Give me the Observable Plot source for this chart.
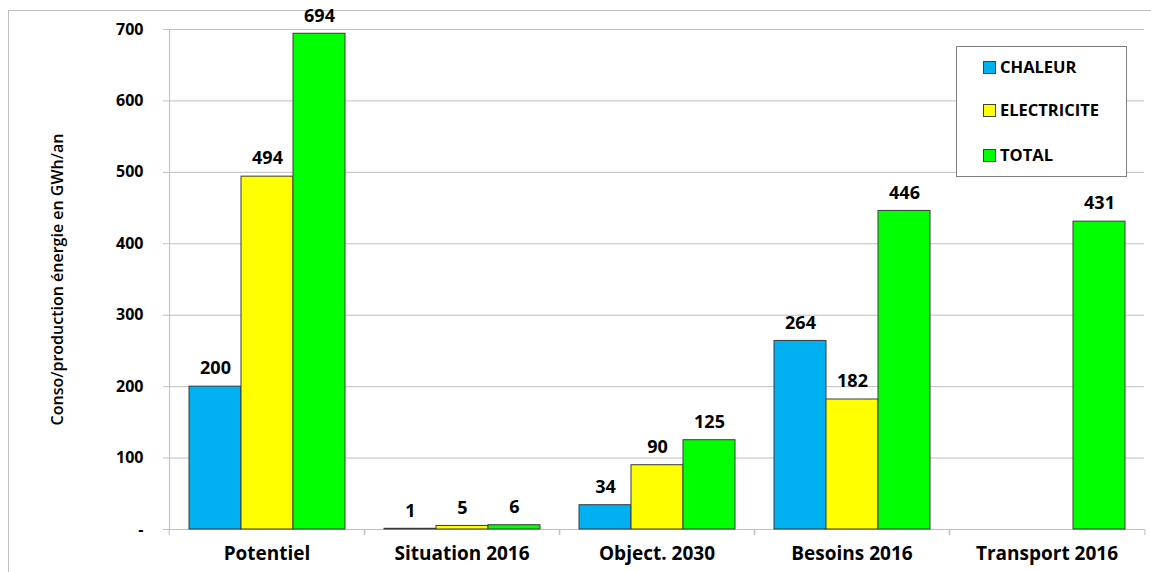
<!DOCTYPE html>
<html><head><meta charset="utf-8">
<script src="https://cdn.jsdelivr.net/npm/d3@7"></script>
<script src="https://cdn.jsdelivr.net/npm/@observablehq/plot@0.6"></script>
<style>
body{margin:0;background:#fff;}
#wrap{position:relative;width:1151px;height:572px;overflow:hidden;font-family:"Open Sans",sans-serif;}
#border{position:absolute;left:8px;top:10px;width:1300px;height:800px;border:1px solid #bfbfbf;box-sizing:border-box;}
#chart{position:absolute;left:0;top:0;}
#legend{position:absolute;left:956px;top:46px;width:171px;height:131px;background:#fff;border:1px solid #7f7f7f;box-sizing:border-box;}
#legend .item{position:absolute;left:26px;display:flex;align-items:center;font-weight:bold;font-size:16.5px;color:#000;line-height:20px;}
#legend .sw{width:13px;height:13px;border:1px solid #404040;margin-right:4px;box-sizing:border-box;}
</style></head><body>
<div id="wrap"><div id="border"></div><div id="chart"></div><div id="legend"></div></div>
<script>
const categories = ["Potentiel", "Situation 2016", "Object. 2030", "Besoins 2016", "Transport 2016"];
const series = ["CHALEUR", "ELECTRICITE", "TOTAL"];
const colors = ["#00B0F0", "#FFFF00", "#00FF00"];
const chaleur = [200, 1, 34, 264, null];
const electricite = [494, 5, 90, 182, null];
const total = [694, 6, 125, 446, 431];
const yTicks = [0, 100, 200, 300, 400, 500, 600, 700];
const yLabel = "Conso/production énergie en GWh/an";

const seriesValues = [chaleur, electricite, total];
const data = [];
categories.forEach((c, i) => {
  seriesValues.forEach((arr, j) => {
    if (arr[i] != null) data.push({category: c, series: series[j], value: arr[i]});
  });
});

const W = 1151, H = 572, mL = 167, mR = 6, mT = 29, mB = 43;
const step = (W - mL - mR) / categories.length;
const grey = "#bfbfbf";

const chart = Plot.plot({
  width: W, height: H,
  marginLeft: mL, marginRight: mR, marginTop: mT, marginBottom: mB,
  style: {fontFamily: "'Open Sans', sans-serif", background: "transparent", color: "#000"},
  fx: {domain: categories, padding: 0, label: null, axis: null},
  x: {domain: series, paddingInner: 0, paddingOuter: 0.363, axis: null},
  y: {domain: [0, 700], axis: null},
  color: {domain: series, range: colors},
  marks: [
    Plot.gridY(yTicks, {stroke: grey, strokeOpacity: 1}),
    Plot.frame({anchor: "left", stroke: grey, facetAnchor: "left"}),
    Plot.axisY(yTicks, {tickSize: 6, tickPadding: 20, stroke: grey, fill: "#000",
      tickFormat: d => d === 0 ? "-" : String(d), fontSize: 16, fontWeight: "bold", label: null}),
    Plot.text([yLabel], {frameAnchor: "left", textAnchor: "middle", rotate: -90, dx: -112, fontSize: 16, fontWeight: 600, fill: "#000", facetAnchor: "left"}),
    Plot.axisFx({anchor: "bottom", tickSize: 0, tickPadding: 17, fontSize: 19, fontWeight: "bold", fill: "#000", label: null}),
    Plot.axisFx({anchor: "bottom", tickSize: 6, stroke: grey, tickFormat: () => "", dx: -step / 2, label: null}),
    Plot.axisFx([categories[categories.length - 1]], {anchor: "bottom", tickSize: 6, stroke: grey, tickFormat: () => "", dx: step / 2, label: null}),
    Plot.barY(data, {fx: "category", x: "series", y: "value", fill: "series", stroke: "#3a3a3a", strokeWidth: 1}),
    Plot.text(data, {fx: "category", x: "series", y: "value", text: d => String(d.value), dy: -18, fontSize: 18, fontWeight: "bold", fill: "#000"})
  ]
});
document.getElementById("chart").appendChild(chart);

const legend = document.getElementById("legend");
const rowCenters = [20, 63, 108];
series.forEach((s, i) => {
  const item = document.createElement("div");
  item.className = "item";
  item.style.top = (rowCenters[i] - 10) + "px";
  const sw = document.createElement("span");
  sw.className = "sw";
  sw.style.background = colors[i];
  const t = document.createElement("span");
  t.textContent = s;
  item.appendChild(sw); item.appendChild(t);
  legend.appendChild(item);
});
</script>
</body></html>
